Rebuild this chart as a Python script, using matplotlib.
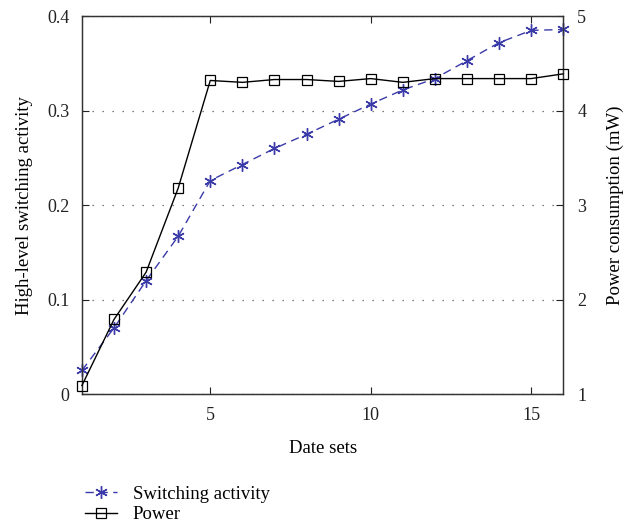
import matplotlib
matplotlib.use("Agg")
import matplotlib.pyplot as plt

x = list(range(1, 17))
switching = [0.025, 0.070, 0.120, 0.167, 0.226, 0.243, 0.260, 0.275, 0.291, 0.307,
             0.322, 0.334, 0.353, 0.372, 0.385, 0.386]
power = [1.09, 1.79, 2.29, 3.18, 4.32, 4.30, 4.33, 4.33, 4.31, 4.34,
         4.30, 4.34, 4.34, 4.34, 4.34, 4.39]
xticks = [5, 10, 15]
yticks_left = [0, 0.1, 0.2, 0.3, 0.4]
yticks_right = [1, 2, 3, 4, 5]

plt.rcParams['font.family'] = ['Liberation Serif', 'DejaVu Serif']
plt.rcParams['font.size'] = 13

fig = plt.figure(figsize=(6.35, 5.24), dpi=100)
ax = fig.add_axes([0.129, 0.248, 0.758, 0.721])
ax2 = ax.twinx()

blue = '#3a3aa8'
ax.plot(x, switching, linestyle=(0, (6, 4)), color=blue, lw=1.0, marker=(6, 2, 0),
        markersize=9, markeredgewidth=1.0, clip_on=False, zorder=3,
        label='Switching activity')
ax2.plot(x, power, color='black', lw=1.0, marker='s', markersize=7,
         markerfacecolor='none', markeredgecolor='black', markeredgewidth=0.9,
         clip_on=False, zorder=3, label='Power')

ax.set_xlim(1, 16)
ax.set_ylim(0, 0.4)
ax2.set_ylim(1, 5)
ax.set_xticks(xticks)
ax.set_yticks(yticks_left)
ax.set_yticklabels(['0', '0.1', '0.2', '0.3', '0.4'])
ax2.set_yticks(yticks_right)

ax.grid(axis='y', linestyle=(0, (1, 7)), color='#555555', lw=0.9)
for a in (ax, ax2):
    for s in a.spines.values():
        s.set_color('#333333')
        s.set_linewidth(0.9)
ax.tick_params(direction='in', top=True, length=5, colors='#222222', labelsize=13)
ax.tick_params(axis='y', pad=9)
ax.tick_params(axis='x', pad=9)
ax2.tick_params(direction='in', length=5, colors='#222222', labelsize=13, pad=10)

ax.set_xlabel('Date sets', fontsize=13.5, labelpad=12)
ax.set_ylabel('High-level switching activity', fontsize=13.5, labelpad=10)
ax2.set_ylabel('Power consumption (mW)', fontsize=13.5, labelpad=15)

handles = [ax.get_lines()[0], ax2.get_lines()[0]]
fig.legend(handles, ['Switching activity', 'Power'], loc='upper left',
           bbox_to_anchor=(0.122, 0.088), frameon=False, fontsize=13.5,
           handlelength=1.7, labelspacing=0.2, handletextpad=0.85, borderaxespad=0)

fig.savefig('out.png', dpi=100)
